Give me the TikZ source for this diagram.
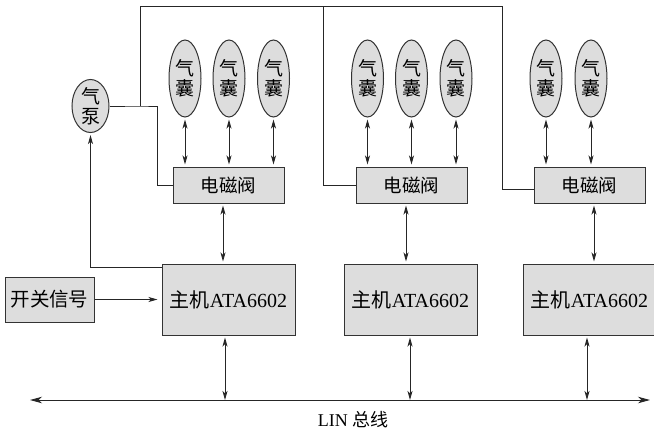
\documentclass[tikz,border=0pt]{standalone}
\usepackage{fontspec}
\setmainfont{Liberation Serif}
\newfontfamily\cjk{Noto Sans CJK SC}
\usetikzlibrary{arrows.meta,shapes.geometric}
\definecolor{boxgray}{RGB}{221,221,221}

\begin{document}
\begin{tikzpicture}[
  x=1pt, y=-1pt,
  line width=0.9pt, draw=black!85,
  box/.style={draw=black!80, fill=boxgray, line width=1pt, inner sep=0pt},
  bag/.style={box, ellipse, minimum width=32pt, minimum height=77pt, align=center,
    font=\cjk\fontsize{19}{20}\selectfont},
  valve/.style={box, rectangle, minimum width=111pt, minimum height=36pt,
    font=\cjk\fontsize{18.5}{21}\selectfont},
  host/.style={box, rectangle, minimum width=133pt, minimum height=71pt,
    font=\fontsize{20}{24}\selectfont},
  link/.style={{Stealth[length=9pt,width=5pt,inset=2.5pt]}-{Stealth[length=9pt,width=5pt,inset=2.5pt]},
    shorten <=2pt, shorten >=2pt},
  feed/.style={-{Stealth[length=9pt,width=5pt,inset=2.5pt]}, shorten >=2pt}
]
\useasboundingbox (0,0) rectangle (654,432);

\node[bag, minimum width=37pt, minimum height=53pt] (pump) at (90.5,106) {气\\泵};

\node[valve] (valve1) at (228.5,185) {电磁阀};
\node[valve] (valve2) at (411.5,185) {电磁阀};
\node[valve] (valve3) at (589.5,185) {电磁阀};

\foreach \name/\x/\v in {bag1/185/valve1, bag2/229/valve1, bag3/273.5/valve1,
    bag4/367.5/valve2, bag5/411.5/valve2, bag6/456/valve2,
    bag7/546/valve3, bag8/591/valve3} {
  \node[bag] (\name) at (\x,78.5) {气\\囊};
  \draw[link] (\name.south) -- (\name.south |- \v.north);
}

\node[host] (host1) at (228.5,299.5) {{\cjk 主机}ATA6602};
\node[host] (host2) at (410.5,299.5) {{\cjk 主机}ATA6602};
\node[host] (host3) at (589.5,299.5) {{\cjk 主机}ATA6602};
\node[box, minimum width=89pt, minimum height=45pt, font=\cjk\fontsize{19.5}{22}\selectfont]
  (switch) at (49.5,299.5) {开关信号};

\coordinate (tee) at (140,106);
\draw (pump.east) -- (tee) -- (157,106) |- (valve1.west);
\draw (tee) |- (502,6) |- ([yshift=-4pt]valve3.west);
\draw (323,6) |- (valve2.west);

\draw[feed] ([yshift=-4pt]host1.north west) -| (pump.south);
\draw[feed, shorten >=4pt] (switch.east) -- (host1.west);

\draw[link] (valve1.south -| 223,0) -- (host1.north -| 223,0);
\draw[link] (valve2.south -| 406,0) -- (host2.north -| 406,0);
\draw[link] (valve3.south -| 594,0) -- (host3.north -| 594,0);

\coordinate (busL) at (30,400);
\coordinate (busR) at (650,400);
\draw[{Stealth[length=12pt,width=6.5pt,inset=3.5pt]}-{Stealth[length=12pt,width=6.5pt,inset=3.5pt]}]
  (busL) -- (busR);
\draw[link, shorten >=0pt] (host1.south -| 225,0) -- (225,0 |- busL);
\draw[link, shorten >=0pt] (host2.south -| 410,0) -- (410,0 |- busL);
\draw[link, shorten >=0pt] (host3.south -| 587,0) -- (587,0 |- busL);

\node[font=\fontsize{18}{21}\selectfont] (lin) at (353,420) {LIN {\cjk 总线}};
\end{tikzpicture}
\end{document}
